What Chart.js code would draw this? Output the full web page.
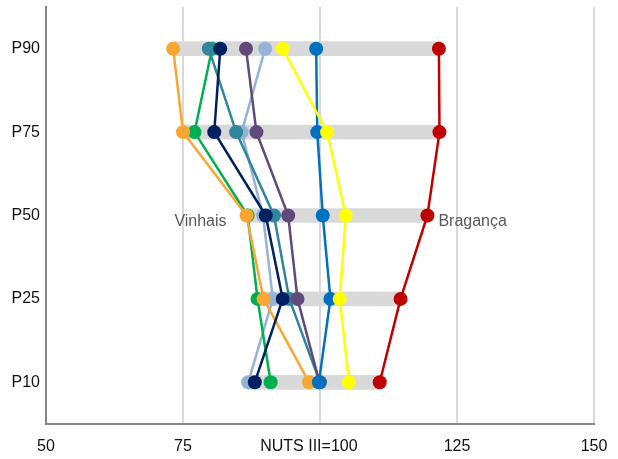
<!DOCTYPE html>
<html>
<head>
<meta charset="utf-8">
<script src="https://cdn.jsdelivr.net/npm/chart.js@4/dist/chart.umd.min.js"></script>
<style>
  html, body { margin: 0; padding: 0; background: #fff; }
  #wrap { width: 618px; height: 459px; }
</style>
</head>
<body>
<div id="wrap"><canvas id="myChart" width="618" height="459"></canvas></div>
<script>
var categories = ['P90', 'P75', 'P50', 'P25', 'P10'];
var xTicks = [50, 75, 100, 125, 150];

// series values, order P90, P75, P50, P25, P10
var vinhais   = [73.2, 75.0, 86.6, 89.7, 98.0];
var serieTeal = [79.7, 84.7, 91.6, 94.4, 100.0];
var serieVerde = [80.3, 77.1, 86.8, 88.6, 91.0];
var serieNavy = [81.8, 80.7, 90.1, 93.2, 88.1];
var serieRoxa = [86.5, 88.4, 94.2, 95.9, 99.9];
var serieAzulClaro = [90.0, 85.7, 89.6, 91.4, 86.9];
var serieAmarela = [93.2, 101.3, 104.7, 103.6, 105.3];
var serieAzul = [99.3, 99.5, 100.5, 101.9, 99.8];
var braganca  = [121.7, 121.8, 119.6, 114.7, 110.9];

var allSeries = [vinhais, serieTeal, serieVerde, serieNavy, serieRoxa, serieAzulClaro, serieAmarela, serieAzul, braganca];
var range = categories.map(function(c, i) {
    var vals = allSeries.map(function(s) { return s[i]; });
    return [Math.min.apply(null, vals), Math.max.apply(null, vals)];
});

var fonte = '"Liberation Sans", Arial, sans-serif';

function lineSet(label, data, color, order) {
    return {
        type: 'line',
        label: label,
        data: data,
        borderColor: color,
        backgroundColor: color,
        pointBackgroundColor: color,
        pointBorderColor: color,
        pointRadius: 7,
        pointBorderWidth: 0,
        borderWidth: 2.5,
        fill: false,
        tension: 0,
        order: order
    };
}

var labelPlugin = {
    id: 'nomes',
    afterDatasetsDraw: function(chart) {
        var ctx = chart.ctx;
        ctx.save();
        ctx.font = '16px ' + fonte;
        ctx.fillStyle = '#595959';
        ctx.textBaseline = 'middle';
        var pv = chart.getDatasetMeta(0).data[2];
        ctx.textAlign = 'right';
        ctx.fillText('Vinhais', pv.x - 20, pv.y + 6);
        var pb = chart.getDatasetMeta(8).data[2];
        ctx.textAlign = 'left';
        ctx.fillText('Bragança', pb.x + 11, pb.y + 6);
        ctx.restore();
    }
};

var ctx = document.getElementById('myChart').getContext('2d');
var chart = new Chart(ctx, {
    type: 'bar',
    data: {
        labels: categories,
        datasets: [
            lineSet('Vinhais', vinhais, '#f9a732', 5),
            lineSet('Município B', serieTeal, '#31859c', 4),
            lineSet('Município C', serieVerde, '#00b050', 6),
            lineSet('Município D', serieNavy, '#002060', 3),
            lineSet('Município E', serieRoxa, '#604a7b', 3),
            lineSet('Município F', serieAzulClaro, '#95b3d7', 7),
            lineSet('Município G', serieAmarela, '#ffff00', 2),
            lineSet('Município H', serieAzul, '#0070c0', 2),
            lineSet('Bragança', braganca, '#c00000', 1),
            {
                type: 'bar',
                label: 'Intervalo',
                data: range,
                backgroundColor: '#d9d9d9',
                borderWidth: 0,
                borderSkipped: false,
                barThickness: 14,
                order: 20
            }
        ]
    },
    options: {
        indexAxis: 'y',
        responsive: false,
        animation: false,
        layout: { padding: { top: 6, right: 24, left: 0, bottom: 0 } },
        plugins: {
            legend: { display: false },
            tooltip: { enabled: false }
        },
        scales: {
            x: {
                type: 'linear',
                min: 50,
                max: 150,
                afterBuildTicks: function(axis) {
                    axis.ticks = xTicks.map(function(v) { return { value: v }; });
                },
                afterFit: function(axis) {
                    axis.height = 35;
                    axis.paddingLeft = 0;
                    axis.paddingRight = 0;
                },
                grid: { color: '#d9d9d9', lineWidth: 2, drawTicks: false },
                border: { color: '#868686', width: 2 },
                ticks: {
                    padding: 13,
                    maxRotation: 0,
                    minRotation: 0,
                    autoSkip: false,
                    color: '#111',
                    font: { family: fonte, size: 16 },
                    // o rótulo do 100 fica um pouco à esquerda no original
                    callback: function(v) { return v === 100 ? 'NUTS III=100     ' : v; }
                }
            },
            y: {
                type: 'category',
                offset: true,
                afterFit: function(axis) {
                    axis.width = 46;
                    axis.paddingTop = 0;
                    axis.paddingBottom = 0;
                },
                grid: { display: false, drawTicks: false },
                border: { color: '#868686', width: 2 },
                ticks: {
                    padding: 6,
                    color: '#111',
                    font: { family: fonte, size: 16 }
                }
            }
        }
    },
    plugins: [labelPlugin]
});
</script>
</body>
</html>
